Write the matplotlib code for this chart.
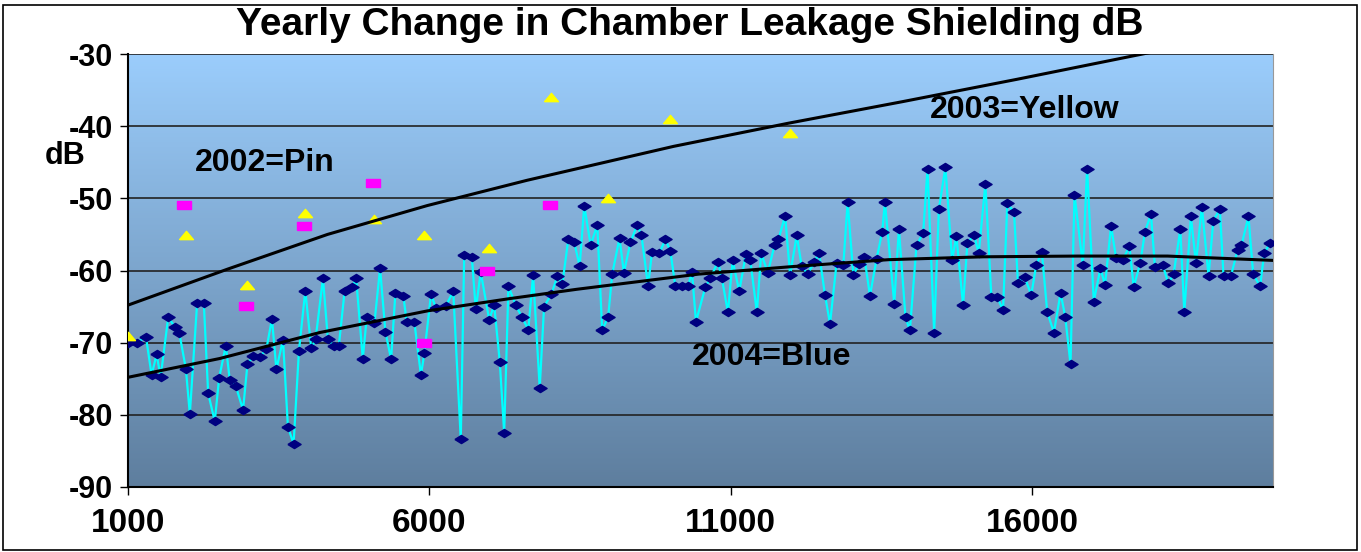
import numpy as np
import matplotlib.pyplot as plt
from matplotlib.patches import Rectangle

plt.rcParams['font.family'] = ['Liberation Sans', 'DejaVu Sans']
plt.rcParams['font.weight'] = 'bold'
plt.rcParams['axes.unicode_minus'] = False

# 2004 measurements (blue diamonds)
x_2004 = [1000, 1144, 1298, 1392, 1475, 1541, 1667, 1778, 1850, 1960,
          2026, 2147, 2258, 2330, 2440, 2512, 2623, 2689, 2788, 2909,
          2982, 3075, 3185, 3296, 3389, 3462, 3572, 3654, 3748, 3836,
          3942, 4041, 4113, 4235, 4317, 4411, 4499, 4594, 4720, 4786,
          4896, 4962, 5089, 5183, 5271, 5366, 5437, 5569, 5624, 5751,
          5861, 5917, 6028, 6110, 6275, 6397, 6522, 6579, 6705, 6771,
          6853, 6993, 7076, 7170, 7242, 7313, 7434, 7534, 7643, 7722,
          7832, 7904, 8025, 8125, 8207, 8306, 8401, 8495, 8571, 8677,
          8787, 8869, 8968, 9035, 9156, 9228, 9338, 9448, 9520, 9630,
          9696, 9818, 9917, 10000, 10083, 10193, 10292, 10358, 10425, 10580,
          10662, 10789, 10855, 10955, 11033, 11143, 11253, 11325, 11435, 11507,
          11617, 11728, 11794, 11904, 11987, 12097, 12179, 12279, 12390, 12467,
          12566, 12649, 12759, 12870, 12942, 13036, 13130, 13218, 13312, 13422,
          13516, 13560, 13715, 13792, 13902, 13974, 14085, 14195, 14267, 14377,
          14455, 14564, 14675, 14746, 14857, 14929, 15040, 15117, 15227, 15327,
          15426, 15520, 15591, 15702, 15768, 15879, 15989, 16071, 16165, 16253,
          16364, 16475, 16552, 16640, 16706, 16844, 16915, 17026, 17136, 17213,
          17313, 17396, 17506, 17617, 17688, 17799, 17876, 17975, 18041, 18169,
          18263, 18351, 18462, 18528, 18638, 18721, 18820, 18931, 19009, 19118,
          19179, 19301, 19411, 19477, 19593, 19671, 19787, 19853, 19952]
y_2004 = [-70.0, -70.0, -69.2, -74.5, -71.6, -74.8, -66.5, -67.8, -68.6, -73.6,
          -79.9, -64.5, -64.5, -77.0, -80.9, -74.9, -70.4, -75.2, -76.0, -79.3,
          -73.0, -71.9, -72.0, -70.9, -66.7, -73.7, -69.6, -81.7, -84.0, -71.2,
          -62.8, -70.8, -69.5, -61.1, -69.5, -70.4, -70.4, -62.9, -62.3, -61.1,
          -72.2, -66.5, -67.3, -59.7, -68.5, -72.3, -63.1, -63.5, -67.1, -67.1,
          -74.5, -71.5, -63.3, -65.2, -64.9, -62.9, -83.4, -57.9, -58.1, -65.4,
          -60.2, -66.8, -64.8, -72.7, -82.5, -62.2, -64.8, -66.4, -68.2, -60.6,
          -76.3, -65.0, -63.3, -60.8, -61.9, -55.7, -56.0, -59.4, -51.0, -56.5,
          -53.7, -68.3, -66.4, -60.5, -55.5, -60.3, -56.1, -53.7, -55.1, -62.2,
          -57.4, -57.6, -55.7, -57.3, -62.2, -62.2, -62.2, -60.2, -67.1, -62.3,
          -61.1, -58.8, -61.1, -65.8, -58.6, -62.9, -57.7, -58.5, -65.8, -57.6,
          -60.3, -56.5, -55.7, -52.4, -60.6, -55.1, -59.4, -60.5, -58.8, -57.6,
          -63.4, -67.4, -58.9, -59.2, -50.5, -60.6, -59.1, -58.1, -63.5, -58.4,
          -54.6, -50.5, -64.6, -54.2, -66.5, -68.3, -56.5, -54.8, -45.9, -68.6,
          -51.5, -45.7, -58.6, -55.2, -64.8, -56.2, -55.1, -57.6, -48.0, -63.7,
          -63.7, -65.5, -50.7, -51.9, -61.7, -60.9, -63.4, -59.2, -57.5, -65.7,
          -68.6, -63.1, -66.4, -73.0, -49.5, -59.2, -45.9, -64.3, -59.7, -62.0,
          -53.8, -58.3, -58.6, -56.6, -62.3, -58.9, -54.6, -52.2, -59.5, -59.2,
          -61.8, -60.5, -54.3, -65.8, -52.5, -59.0, -51.2, -60.8, -53.1, -51.5,
          -60.8, -60.8, -57.2, -56.5, -52.5, -60.5, -62.2, -57.6, -56.2]

# 2003 measurements (yellow triangles)
x_2003 = [1000, 1960, 2982, 3930, 5090, 5917, 6993, 8020, 8968, 9990, 11977]
y_2003 = [-69.1, -55.1, -62.0, -52.1, -52.9, -55.1, -56.9, -36.0, -50.0, -39.0, -41.0]

# 2002 measurements (magenta squares)
x_2002 = [1933, 2965, 3919, 5061, 5906, 6965, 7998]
y_2002 = [-50.9, -64.9, -53.9, -47.9, -70.0, -60.0, -50.9]

# trend lines
trend03_x = [1000, 2656, 4311, 5967, 7622, 10053, 11953, 13854, 15755, 17656, 18500]
trend03_y = [-64.8, -59.8, -55.0, -51.0, -47.5, -42.8, -39.6, -36.6, -33.5, -30.3, -28.9]
trend04_x = [1000, 2520, 4180, 5967, 7330, 8450, 10470, 11960, 13620, 15200, 16760, 18250, 20000]
trend04_y = [-74.8, -72.2, -68.6, -65.6, -63.9, -62.6, -60.5, -59.5, -58.5, -58.1, -58.0, -58.0, -58.6]

y_ticks = [-90, -80, -70, -60, -50, -40, -30]
x_ticks = [1000, 6000, 11000, 16000]

fig = plt.figure(figsize=(13.61, 5.52), dpi=100)
ax = fig.add_axes([128 / 1361, 65 / 552, 1145 / 1361, 433 / 552])

# gradient plot background
grad = np.linspace(0, 1, 256).reshape(-1, 1)
top = np.array([155, 205, 252]) / 255
bottom = np.array([94, 126, 158]) / 255
img = top + (bottom - top) * grad[:, :, None]
ax.imshow(img, extent=[0, 1, 0, 1], transform=ax.transAxes, aspect='auto', zorder=0)

for yv in y_ticks[1:]:
    ax.axhline(yv, color='#222222', lw=1.2, zorder=1)

diamond = [(-1, 0), (0, 0.62), (1, 0), (0, -0.62), (-1, 0)]
tri = [(-1, -0.6), (1, -0.6), (0, 0.6), (-1, -0.6)]
rect = [(-1, -0.55), (1, -0.55), (1, 0.55), (-1, 0.55), (-1, -0.55)]

ax.plot(x_2004, y_2004, color='#00FFFF', lw=1.6, zorder=3)
ax.plot(x_2004, y_2004, ls='none', marker=diamond, ms=9.5, mfc='#000080', mec='#000080', zorder=4)
ax.plot(x_2003, y_2003, ls='none', marker=tri, ms=10, mfc='#FFFF00', mec='#FFFF00', zorder=4)
ax.plot(x_2002, y_2002, ls='none', marker=rect, ms=9.5, mfc='#FF00FF', mec='#FF00FF', zorder=4)

ax.plot(trend03_x, trend03_y, color='black', lw=2.2, zorder=5)
ax.plot(trend04_x, trend04_y, color='black', lw=2.2, zorder=5)

ax.set_xlim(1000, 20000)
ax.set_ylim(-90, -30)
ax.set_xticks(x_ticks)
ax.set_yticks(y_ticks)
ax.tick_params(axis='x', labelsize=24, length=6, width=1, pad=9)
ax.tick_params(axis='y', labelsize=22, length=6, width=1, pad=5)
ax.spines['top'].set_visible(False)
ax.spines['right'].set_color('#999999')
ax.spines['left'].set_linewidth(1.5)
ax.spines['bottom'].set_linewidth(1.5)

ax.text(0.783, 0.871, '2003=Yellow', fontsize=23, ha='center', va='center', transform=ax.transAxes)
ax.text(0.119, 0.748, '2002=Pin', fontsize=23, ha='center', va='center', transform=ax.transAxes)
ax.text(0.562, 0.300, '2004=Blue', fontsize=23, ha='center', va='center', transform=ax.transAxes)
fig.text(65 / 1361, 1 - 156 / 552, 'dB', fontsize=22, ha='center', va='center')

fig.text(0.507, 1 - 25 / 552, 'Yearly Change in Chamber Leakage Shielding dB',
         fontsize=28, ha='center', va='center')

fig.add_artist(Rectangle((3 / 1361, 2 / 552), 1354 / 1361, 545 / 552, transform=fig.transFigure,
                         fill=False, edgecolor='black', lw=1.2))

fig.savefig('out.png', dpi=100)
